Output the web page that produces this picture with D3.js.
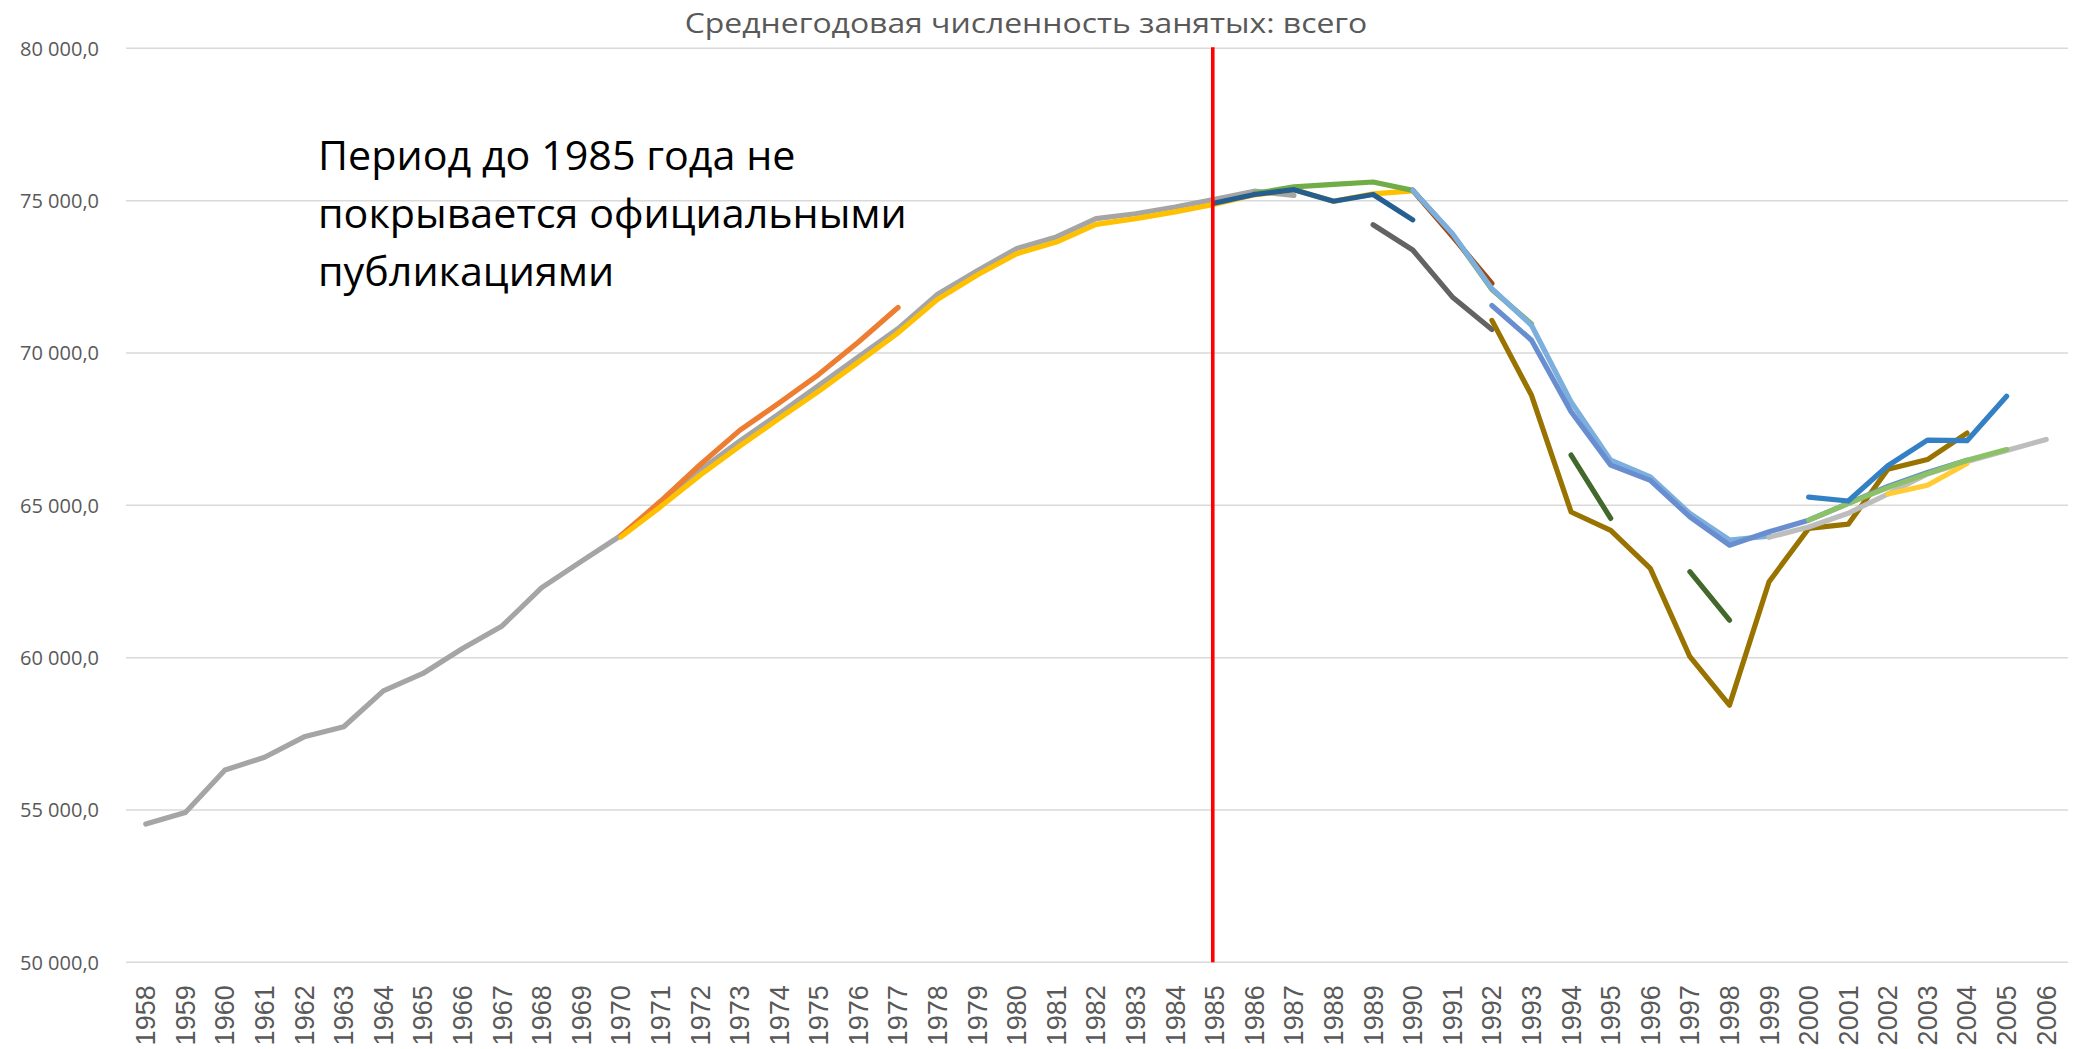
<!DOCTYPE html>
<html>
<head>
<meta charset="utf-8">
<script src="https://cdn.jsdelivr.net/npm/d3@7"></script>
<style>
  html, body { margin: 0; padding: 0; background: #ffffff; overflow: hidden; }
</style>
</head>
<body>
<svg id="chart" width="2075" height="1049"></svg>
<script>
// ---------- categories / ticks / texts ----------
const years = ["1958","1959","1960","1961","1962","1963","1964","1965","1966","1967",
  "1968","1969","1970","1971","1972","1973","1974","1975","1976","1977",
  "1978","1979","1980","1981","1982","1983","1984","1985","1986","1987",
  "1988","1989","1990","1991","1992","1993","1994","1995","1996","1997",
  "1998","1999","2000","2001","2002","2003","2004","2005","2006"];
const yTicks = [50000, 55000, 60000, 65000, 70000, 75000, 80000];
const titleText = "Среднегодовая численность занятых: всего";
const noteLines = ["Период до 1985 года не", "покрывается официальными", "публикациями"];
const markerYear = "1985";

// ---------- series values (each starts at the given year) ----------
const grayStart = "1958";
const grayVals = [54540, 54920, 56310, 56730, 57400, 57730, 58910, 59480, 60300, 61040,
  62300, 63160, 64010, 65060, 66150, 67110, 68010, 68940, 69870, 70800,
  71930, 72700, 73430, 73810, 74410, 74570, 74790, 75040, 75310, 75170];

const orangeStart = "1970";
const orangeVals = [64010, 65130, 66330, 67460, 68360, 69300, 70360, 71490];

const goldStart = "1970";
const goldVals = [63960, 64950, 65990, 66940, 67850, 68750, 69700, 70660, 71760, 72560,
  73260, 73640, 74220, 74410, 74630, 74880, 75190, 75360, 74980, 75220, 75320];

const greenStart = "1986";
const greenVals = [75230, 75450, 75535, 75611, 75338, 73900, 72080, 70950];

const darkBlueStart = "1985";
const darkBlueVals = [74920, 75200, 75360, 74980, 75200, 74370];

const darkOrangeStart = "1990";
const darkOrangeVals = [75338, 73830, 72280];

const darkGrayStart = "1989";
const darkGrayVals = [74210, 73380, 71840, 70770];

const darkGoldStart = "1992";
const darkGoldVals = [71070, 68610, 64780, 64180, 62930, 60030, 58440, 62490, 64240, 64380,
  66180, 66500, 67370];

const darkGreenStart = "1994";
const darkGreenVals = [66650, 64570, null, 62820, 61230];

const lightBlueStart = "1990";
const lightBlueVals = [75338, 73920, 72110, 70910, 68390, 66480, 65930, 64730, 63860, 63990];

const lightGrayStart = "1999";
const lightGrayVals = [63950, 64290, 64740, 65370, 66030, 66440, 66800, 67160];

const yellowStart = "2002";
const yellowVals = [65370, 65660, 66370];

const midBlueStart = "1992";
const midBlueVals = [71560, 70420, 68070, 66320, 65820, 64620, 63690, 64130, 64510, 65060,
  65620, 66080, 66480];

const lightGreenStart = "2000";
const lightGreenVals = [64510, 65060, 65580, 66040, 66480, 66830];

const blueStart = "2000";
const blueVals = [65270, 65140, 66300, 67140, 67120, 68580];

// ---------- series table (drawing order) ----------
const seriesList = [
  { start: grayStart,       values: grayVals,       color: "#A5A5A5" },
  { start: orangeStart,     values: orangeVals,     color: "#ED7D31" },
  { start: goldStart,       values: goldVals,       color: "#FFC000" },
  { start: greenStart,      values: greenVals,      color: "#70AD47" },
  { start: darkBlueStart,   values: darkBlueVals,   color: "#255E91" },
  { start: darkOrangeStart, values: darkOrangeVals, color: "#9E480E" },
  { start: darkGrayStart,   values: darkGrayVals,   color: "#636363" },
  { start: darkGoldStart,   values: darkGoldVals,   color: "#997300" },
  { start: darkGreenStart,  values: darkGreenVals,  color: "#43682B" },
  { start: lightBlueStart,  values: lightBlueVals,  color: "#7CAFDD" },
  { start: lightGrayStart,  values: lightGrayVals,  color: "#BDBDBD" },
  { start: yellowStart,     values: yellowVals,     color: "#FFCD33" },
  { start: midBlueStart,    values: midBlueVals,    color: "#698ED0" },
  { start: lightGreenStart, values: lightGreenVals, color: "#8CC168" },
  { start: blueStart,       values: blueVals,       color: "#3480C4" }
];

// ---------- layout ----------
const svg = d3.select("#chart");
svg.append("rect").attr("width", 2075).attr("height", 1049).attr("fill", "#ffffff");

const x = d3.scaleBand().domain(years).range([126, 2066]).padding(0);
const y = d3.scaleLinear().domain([50000, 80000]).range([962.3, 48.3]);
const cx = yr => x(yr) + x.bandwidth() / 2;

const locale = d3.formatLocale({ decimal: ",", thousands: " ", grouping: [3], currency: ["", ""] });
const fmt = locale.format(",.1f");

// gridlines
svg.append("g").selectAll("line").data(yTicks).join("line")
  .attr("x1", x.range()[0]).attr("x2", x.range()[1] + 2)
  .attr("y1", d => y(d)).attr("y2", d => y(d))
  .attr("stroke", "#D9D9D9").attr("stroke-width", 1.5);

// y axis labels
const yAxis = d3.axisLeft(y).tickValues(yTicks).tickFormat(fmt).tickSize(0).tickPadding(0);
const gy = svg.append("g").attr("transform", "translate(99,0)").call(yAxis);
gy.select(".domain").remove();
gy.selectAll("text")
  .attr("font-family", "'Open Sans', sans-serif")
  .attr("font-size", 20)
  .attr("fill", "#595959")
  .attr("dy", "0.35em");

// x axis labels (rotated)
const xAxis = d3.axisBottom(x).tickSize(0).tickPadding(0);
const gx = svg.append("g").attr("transform", "translate(0,962.3)").call(xAxis);
gx.select(".domain").remove();
gx.selectAll("text")
  .attr("font-family", "'Liberation Sans', Arial, sans-serif")
  .attr("font-size", 27)
  .attr("fill", "#595959")
  .attr("text-anchor", "end")
  .attr("transform", "translate(0,23) rotate(-90)")
  .attr("x", 0).attr("y", 0)
  .attr("dy", "0.35em");

// series lines
const line = d3.line()
  .defined(d => d.v !== null)
  .x(d => cx(d.year))
  .y(d => y(d.v));

const seriesData = seriesList.map(s => {
  const i0 = years.indexOf(s.start);
  return { color: s.color, points: s.values.map((v, i) => ({ year: years[i0 + i], v })) };
});

svg.append("g").selectAll("path").data(seriesData).join("path")
  .attr("d", d => line(d.points))
  .attr("fill", "none")
  .attr("stroke", d => d.color)
  .attr("stroke-width", 5.2)
  .attr("stroke-linejoin", "round")
  .attr("stroke-linecap", "round");

// red vertical marker at 1985
svg.append("line")
  .attr("x1", cx(markerYear) - 2).attr("x2", cx(markerYear) - 2)
  .attr("y1", y(80000) - 1).attr("y2", y(50000))
  .attr("stroke", "#FF0000").attr("stroke-width", 3.6);

// title
const title = svg.append("text")
  .attr("font-family", "'Open Sans', sans-serif")
  .attr("font-size", 28)
  .attr("fill", "#595959")
  .attr("text-anchor", "middle")
  .text(titleText);
const tw = title.node().getComputedTextLength();
title.attr("transform", `translate(1026,33) scale(${683 / tw},1)`);

// annotation
const noteG = svg.append("g");
const noteBase = [170, 228, 286];
const noteTexts = noteG.selectAll("text").data(noteLines).join("text")
  .attr("font-family", "'Open Sans', sans-serif")
  .attr("font-size", 40)
  .attr("fill", "#000000")
  .text(d => d);
const w2 = noteTexts.nodes()[1].getComputedTextLength();
const sx = 589 / w2;
noteTexts.attr("transform", (d, i) => `translate(318,${noteBase[i]}) scale(${sx},1)`);
</script>
</body>
</html>
